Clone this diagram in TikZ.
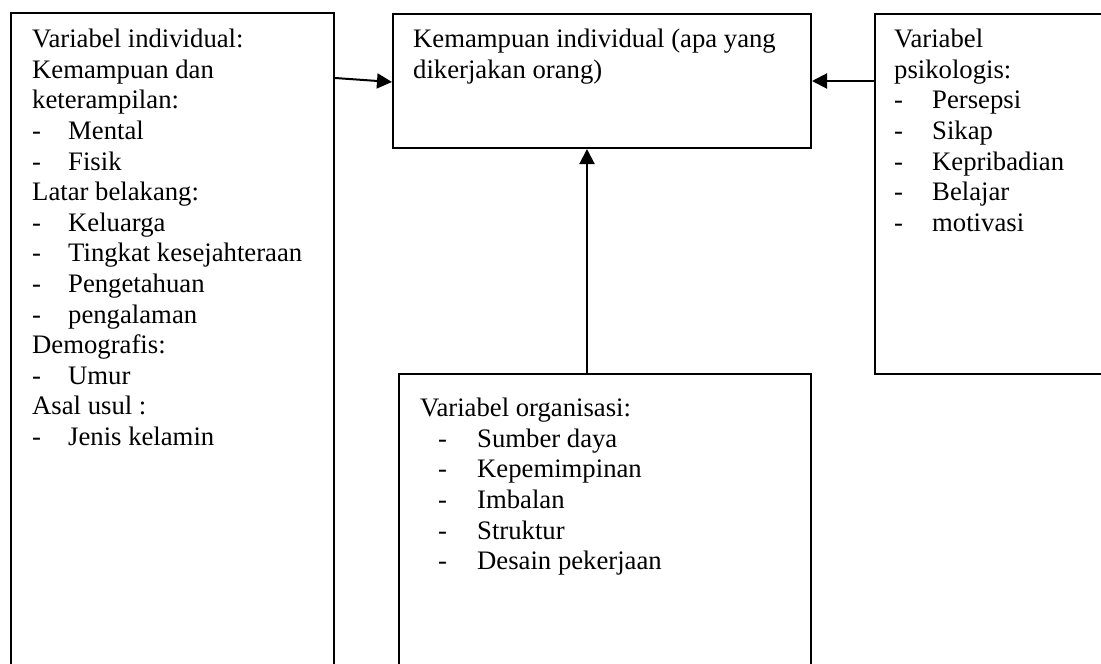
\documentclass[tikz,border=0pt]{standalone}
\usepackage{fontspec}
\setmainfont{Liberation Serif}
\usetikzlibrary{arrows.meta}
\newcommand{\itmA}[1]{\makebox[36pt][l]{-}#1}
\newcommand{\itmB}[1]{\makebox[38pt][l]{-}#1}
\newcommand{\itmC}[1]{\makebox[39pt][l]{-}#1}
\begin{document}
\begin{tikzpicture}[x=1pt,y=-1pt,
  box/.style={draw,line width=2pt,anchor=north west,inner sep=0pt},
  txt/.style={anchor=north west,inner sep=0pt,align=left,font=\fontsize{26.7pt}{30.6pt}\selectfont},
  arr/.style={line width=2pt,-{Triangle[length=15pt,width=15pt]}}]
\useasboundingbox (0,0) rectangle (1101,664);
\clip (0,0) rectangle (1101,664);
% boxes
\node[box,minimum width=323pt,minimum height=700pt] (lb) at (10,12) {};
\node[box,minimum width=418pt,minimum height=134pt] (tb) at (392,13) {};
\node[box,minimum width=260pt,minimum height=360pt] (rb) at (874,13) {};
\node[box,minimum width=412pt,minimum height=340pt] (bb) at (398,373) {};
% texts
\node[txt] (lt) at (32,29) {Variabel individual:\\
Kemampuan dan\\
keterampilan:\\
\itmA{Mental}\\
\itmA{Fisik}\\
Latar belakang:\\
\itmA{Keluarga}\\
\itmA{Tingkat kesejahteraan}\\
\itmA{Pengetahuan}\\
\itmA{pengalaman}\\
Demografis:\\
\itmA{Umur}\\
Asal usul :\\
\itmA{Jenis kelamin}};
\node[txt] (tt) at (413,29) {Kemampuan individual (apa yang\\
dikerjakan orang)};
\node[txt] (rt) at (894,29) {Variabel\\
psikologis:\\
\itmB{Persepsi}\\
\itmB{Sikap}\\
\itmB{Kepribadian}\\
\itmB{Belajar}\\
\itmB{motivasi}};
\node[txt] (bt) at (420,398) {Variabel organisasi:\\
\hspace*{18pt}\itmC{Sumber daya}\\
\hspace*{18pt}\itmC{Kepemimpinan}\\
\hspace*{18pt}\itmC{Imbalan}\\
\hspace*{18pt}\itmC{Struktur}\\
\hspace*{18pt}\itmC{Desain pekerjaan}};
% connectors
\draw[arr] ([yshift=-66pt]lb.north east) -- ([yshift=-69pt]tb.north west);
\draw[arr] ([yshift=-68pt]rb.north west) -- ([yshift=-68pt]tb.north east);
\draw[arr] ([xshift=189pt]bb.north west) -- ([xshift=195pt]tb.south west);
\end{tikzpicture}
\end{document}
